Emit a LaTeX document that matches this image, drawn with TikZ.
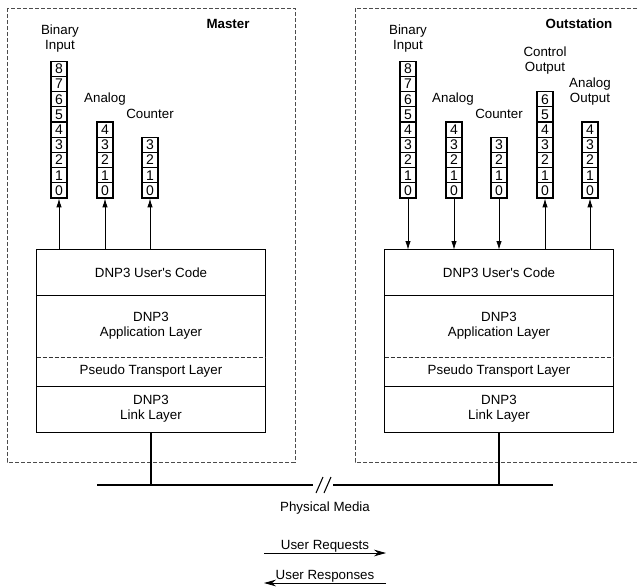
\documentclass[tikz,border=0pt]{standalone}
\usepackage{fontspec}
\setmainfont{Liberation Sans}[Ligatures=TeXOff]
\usetikzlibrary{arrows.meta}
\begin{document}
\begin{tikzpicture}[x=0.75pt,y=-0.75pt,
  txt/.style={font=\fontsize{10}{11.3}\selectfont, align=center, inner sep=0pt},
  ttl/.style={font=\fontsize{10}{12}\selectfont\bfseries, inner sep=0pt},
  cell/.style={draw, line width=0.9pt, minimum width=12pt, minimum height=11.4pt, inner sep=0pt, font=\fontsize{10.5}{11}\selectfont},
  layer/.style={txt, minimum width=171pt},
  frame/.style={draw=black!70, line width=0.7pt, dash pattern=on 3pt off 1.5pt},
  stackline/.style={line width=1pt},
  conn/.style={line width=0.6pt},
  tip/.style={-{Latex[length=6.5pt,width=4pt]}},
  bigtip/.style={-{Stealth[length=9pt,width=5pt]}}
]
\useasboundingbox (0,0) rectangle (639,587);
\clip (0,0) rectangle (639,587);

% frames
\draw[frame] (7,8) rectangle (295,462);
\draw[frame] (355,8) rectangle (660,462);
\node[ttl] (mtitle) at (228,24) {Master};
\node[ttl] (otitle) at (579,24) {Outstation};

% master registers
\foreach \i in {0,...,8} \node[cell] (mbi\i) at (59,{190.4-15.2*\i}) {\i};
\foreach \i in {0,...,4} \node[cell] (man\i) at (105,{190.4-15.2*\i}) {\i};
\foreach \i in {0,...,3} \node[cell] (mco\i) at (150,{190.4-15.2*\i}) {\i};
\node[txt] (mbil) at (60,38.5) {Binary\\Input};
\node[txt] (manl) at (105,99) {Analog};
\node[txt] (mcol) at (150,114) {Counter};

% outstation registers
\foreach \i in {0,...,8} \node[cell] (obi\i) at (408,{190.4-15.2*\i}) {\i};
\foreach \i in {0,...,4} \node[cell] (oan\i) at (454,{190.4-15.2*\i}) {\i};
\foreach \i in {0,...,3} \node[cell] (oco\i) at (499,{190.4-15.2*\i}) {\i};
\foreach \i in {0,...,6} \node[cell] (oct\i) at (545,{190.4-15.2*\i}) {\i};
\foreach \i in {0,...,4} \node[cell] (oao\i) at (590,{190.4-15.2*\i}) {\i};
\node[txt] (obil) at (408,38.5) {Binary\\Input};
\node[txt] (oanl) at (453,99) {Analog};
\node[txt] (ocol) at (499,114) {Counter};
\node[txt] (octl) at (545,61) {Control\\Output};
\node[txt] (oaol) at (590,91.5) {Analog\\Output};

% master stack
\node[layer, minimum height=33.75pt] (muc) at (151,272.5) {DNP3 User's Code};
\node[layer, minimum height=46.5pt] (map) at (151,326) {DNP3\\Application Layer};
\node[layer, minimum height=21.75pt] (mpt) at (151,371.5) {Pseudo Transport Layer};
\node[layer, minimum height=34.5pt] (mll) at (151,409) {DNP3\\Link Layer};
\draw[stackline] (muc.north west) rectangle (mll.south east);
\draw[stackline] (muc.south west) -- (muc.south east);
\draw[stackline] (mpt.south west) -- (mpt.south east);
\draw[line width=0.7pt, dash pattern=on 3pt off 1.5pt, black!80] (map.south west) -- (map.south east);

% outstation stack
\node[layer, minimum height=33.75pt] (ouc) at (499,272.5) {DNP3 User's Code};
\node[layer, minimum height=46.5pt] (oap) at (499,326) {DNP3\\Application Layer};
\node[layer, minimum height=21.75pt] (opt) at (499,371.5) {Pseudo Transport Layer};
\node[layer, minimum height=34.5pt] (oll) at (499,409) {DNP3\\Link Layer};
\draw[stackline] (ouc.north west) rectangle (oll.south east);
\draw[stackline] (ouc.south west) -- (ouc.south east);
\draw[stackline] (opt.south west) -- (opt.south east);
\draw[line width=0.7pt, dash pattern=on 3pt off 1.5pt, black!80] (oap.south west) -- (oap.south east);

% master connectors (up)
\draw[conn,tip] (muc.north -| mbi0) -- (mbi0.south);
\draw[conn,tip] (muc.north -| man0) -- (man0.south);
\draw[conn,tip] (muc.north -| mco0) -- (mco0.south);

% outstation connectors
\draw[conn,tip] (obi0.south) -- (ouc.north -| obi0);
\draw[conn,tip] (oan0.south) -- (ouc.north -| oan0);
\draw[conn,tip] (oco0.south) -- (ouc.north -| oco0);
\draw[conn,tip] (ouc.north -| oct0) -- (oct0.south);
\draw[conn,tip] (ouc.north -| oao0) -- (oao0.south);

% bus
\coordinate (busL) at (97,485);
\coordinate (gapL) at (313,485);
\coordinate (gapR) at (333,485);
\coordinate (busR) at (553,485);
\draw[stackline] (busL) -- (gapL);
\draw[stackline] (gapR) -- (busR);
\draw[line width=0.8pt] (316,493) -- (323,477);
\draw[line width=0.8pt] (324,493) -- (331,477);
\draw[stackline] (mll.south) -- (mll.south |- busL);
\draw[stackline] (oll.south) -- (oll.south |- busL);
\node[txt] (phys) at (325,508) {Physical Media};

% legend
\node[txt] (req) at (325,546) {User Requests};
\coordinate (reqA) at (264,553);
\coordinate (reqB) at (386,553);
\draw[conn,bigtip] (reqA) -- (reqB);
\node[txt] (resp) at (325,576) {User Responses};
\coordinate (respA) at (386,583);
\coordinate (respB) at (264,583);
\draw[conn,bigtip] (respA) -- (respB);
\end{tikzpicture}
\end{document}
